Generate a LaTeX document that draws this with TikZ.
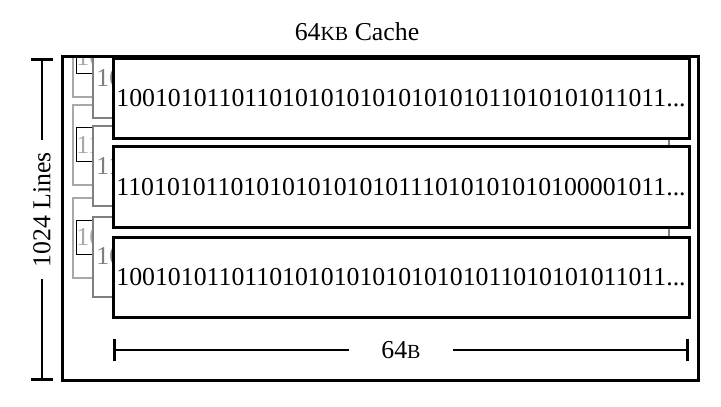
\documentclass[tikz,border=0pt]{standalone}
\usepackage{fontspec}
\setmainfont{Liberation Serif}
\usetikzlibrary{arrows.meta}

\newcommand{\bitfont}{\fontsize{12.9pt}{15pt}\selectfont}
\newcommand{\unitsc}[1]{{\fontsize{10pt}{12pt}\selectfont #1}}
\definecolor{midgray}{HTML}{7F7F7F}
\definecolor{palegray}{HTML}{A9A9A9}

\tikzset{
	frontline/.style={draw=black, line width=1.5pt, fill=white, minimum width=288pt, minimum height=40pt, inner sep=0pt},
	backline/.style={draw=midgray, line width=1pt, fill=white, text=midgray, minimum width=288pt, minimum height=40pt, inner sep=0pt},
	farline/.style={draw=palegray, line width=1pt, fill=white, minimum width=288pt, minimum height=40pt, inner sep=0pt},
	farbits/.style={draw=black, line width=0.5pt, text=palegray, minimum height=17pt, inner sep=0pt},
	dimline/.style={line width=1.4pt, {Bar[width=11pt]}-{Bar[width=11pt]}}
}

\begin{document}
\begin{tikzpicture}[x=0.5pt, y=-0.5pt, font=\bitfont]
		\useasboundingbox (0,0) rectangle (721,406);
		
		\node[draw, line width=1.5pt, minimum width=318pt, minimum height=161.5pt] (cache) at (380, 218.5) {};
		\node (title) at (357, 32) {64\unitsc{KB} Cache};
		
		\begin{scope}
		\clip ([shift={(1.5pt,-1.5pt)}]cache.north west) rectangle ([shift={(-1.5pt,1.5pt)}]cache.south east);
		% far lines
		\node[farline] (far-1) at (361, 57)    {};
		\node[farbits] (far-1-bits) at (far-1) {1001010110110101010101010101011010101011011...};
		\node[farline] (far-2) at (361, 145)   {};
		\node[farbits] (far-2-bits) at (far-2) {1101010110101010101010111010101010100001011...};
		\node[farline] (far-3) at (361, 237.5) {};
		\node[farbits] (far-3-bits) at (far-3) {1001010110110101010101010101011010101011011...};
		
		% back lines
		\node[backline] (back-1) at (381, 78)    {1001010110110101010101010101011010101011011...};
		\node[backline] (back-2) at (381, 166)   {1101010110101010101010111010101010100001011...};
		\node[backline] (back-3) at (381, 256.5) {1001010110110101010101010101011010101011011...};
		\end{scope}
		
		% front lines
		\node[frontline] (line-1) at (401, 98.5)  {1001010110110101010101010101011010101011011...};
		\node[frontline] (line-2) at (401, 187)   {1101010110101010101010111010101010100001011...};
		\node[frontline] (line-3) at (401, 277.5) {1001010110110101010101010101011010101011011...};
		
		
		\coordinate (lines-top) at (42, 58);
		\coordinate (lines-bot) at (42, 381);
		\draw[dimline] (lines-top) -- node[pos=0.47, fill=white, rotate=90, inner xsep=6pt] (lines-label) {1024 Lines} (lines-bot);
		
		\coordinate (width-left)  at (113, 350);
		\coordinate (width-right) at (689, 350);
		\draw[dimline] (width-left) -- node[fill=white, inner xsep=16pt] (width-label) {64\unitsc{B}} (width-right);
		
\end{tikzpicture}
\end{document}
